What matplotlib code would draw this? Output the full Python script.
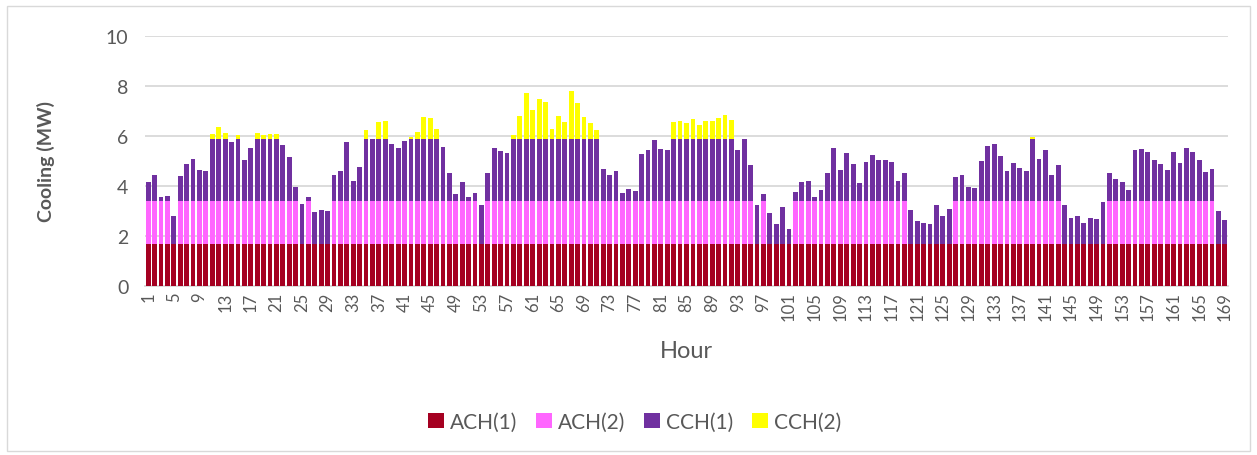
import numpy as np
from matplotlib import pyplot as plt
from matplotlib.patches import Rectangle

plt.rcParams['font.family'] = ['Lato', 'DejaVu Sans']

hours = list(range(1, 170))

ach1 = [1.7] * 169

ach2 = [1.7, 1.7, 1.7, 1.7, 0, 1.7, 1.7, 1.7, 1.7, 1.7,
        1.7, 1.7, 1.7, 1.7, 1.7, 1.7, 1.7, 1.7, 1.7, 1.7,
        1.7, 1.7, 1.7, 1.7, 0, 1.7, 0, 0, 0, 1.7,
        1.7, 1.7, 1.7, 1.7, 1.7, 1.7, 1.7, 1.7, 1.7, 1.7,
        1.7, 1.7, 1.7, 1.7, 1.7, 1.7, 1.7, 1.7, 1.7, 1.7,
        1.7, 1.7, 0, 1.7, 1.7, 1.7, 1.7, 1.7, 1.7, 1.7,
        1.7, 1.7, 1.7, 1.7, 1.7, 1.7, 1.7, 1.7, 1.7, 1.7,
        1.7, 1.7, 1.7, 1.7, 1.7, 1.7, 1.7, 1.7, 1.7, 1.7,
        1.7, 1.7, 1.7, 1.7, 1.7, 1.7, 1.7, 1.7, 1.7, 1.7,
        1.7, 1.7, 1.7, 1.7, 1.7, 0, 1.7, 0, 0, 0,
        0, 1.7, 1.7, 1.7, 1.7, 1.7, 1.7, 1.7, 1.7, 1.7,
        1.7, 1.7, 1.7, 1.7, 1.7, 1.7, 1.7, 1.7, 1.7, 0,
        0, 0, 0, 0, 0, 0, 1.7, 1.7, 1.7, 1.7,
        1.7, 1.7, 1.7, 1.7, 1.7, 1.7, 1.7, 1.7, 1.7, 1.7,
        1.7, 1.7, 1.7, 0, 0, 0, 0, 0, 0, 0,
        1.7, 1.7, 1.7, 1.7, 1.7, 1.7, 1.7, 1.7, 1.7, 1.7,
        1.7, 1.7, 1.7, 1.7, 1.7, 1.7, 1.7, 0, 0]

cch1 = [0.75, 1.03, 0.16, 0.21, 1.10, 1.00, 1.49, 1.70, 1.24, 1.19,
        2.5, 2.5, 2.5, 2.36, 2.5, 1.65, 2.11, 2.5, 2.5, 2.5,
        2.5, 2.25, 1.77, 0.55, 1.57, 0.16, 1.25, 1.33, 1.30, 1.05,
        1.19, 2.35, 0.80, 1.36, 2.5, 2.5, 2.5, 2.5, 2.28, 2.11,
        2.39, 2.5, 2.5, 2.5, 2.5, 2.5, 2.16, 1.11, 0.28, 0.77,
        0.16, 0.31, 1.55, 1.11, 2.11, 2.01, 1.92, 2.5, 2.5, 2.5,
        2.5, 2.5, 2.5, 2.5, 2.5, 2.5, 2.5, 2.5, 2.5, 2.5,
        2.5, 1.28, 1.04, 1.19, 0.33, 0.47, 0.39, 1.89, 2.04, 2.44,
        2.07, 2.04, 2.5, 2.5, 2.5, 2.5, 2.5, 2.5, 2.5, 2.5,
        2.5, 2.5, 2.03, 2.47, 1.44, 1.54, 0.28, 1.22, 0.77, 1.46,
        0.58, 0.37, 0.77, 0.79, 0.17, 0.44, 1.11, 2.11, 1.24, 1.93,
        1.47, 0.71, 1.55, 1.85, 1.65, 1.65, 1.55, 0.80, 1.11, 1.35,
        0.91, 0.81, 0.77, 1.53, 1.10, 1.39, 0.95, 1.03, 0.57, 0.52,
        1.59, 2.20, 2.28, 1.79, 1.20, 1.51, 1.33, 1.20, 2.5, 1.67,
        2.03, 1.03, 1.45, 1.53, 1.01, 1.11, 0.81, 1.03, 0.98, 1.65,
        1.11, 0.88, 0.75, 0.44, 2.03, 2.08, 1.97, 1.64, 1.49, 1.24,
        1.95, 1.51, 2.12, 1.95, 1.64, 1.17, 1.27, 1.31, 0.95]

cch2 = [0, 0, 0, 0, 0, 0, 0, 0, 0, 0,
        0.17, 0.46, 0.23, 0, 0.13, 0, 0, 0.23, 0.14, 0.17,
        0.17, 0, 0, 0, 0, 0, 0, 0, 0, 0,
        0, 0, 0, 0, 0.33, 0, 0.66, 0.71, 0, 0,
        0, 0.07, 0.27, 0.86, 0.82, 0.39, 0, 0, 0, 0,
        0, 0, 0, 0, 0, 0, 0, 0.14, 0.90, 1.81,
        1.14, 1.58, 1.47, 0.39, 0.90, 0.67, 1.89, 1.43, 0.86, 0.61,
        0.34, 0, 0, 0, 0, 0, 0, 0, 0, 0,
        0, 0, 0.66, 0.70, 0.63, 0.78, 0.55, 0.70, 0.70, 0.83,
        0.95, 0.75, 0, 0, 0, 0, 0, 0, 0, 0,
        0, 0, 0, 0, 0, 0, 0, 0, 0, 0,
        0, 0, 0, 0, 0, 0, 0, 0, 0, 0,
        0, 0, 0, 0, 0, 0, 0, 0, 0, 0,
        0, 0, 0, 0, 0, 0, 0, 0, 0.06, 0,
        0, 0, 0, 0, 0, 0, 0, 0, 0, 0,
        0, 0, 0, 0, 0, 0, 0, 0, 0, 0,
        0, 0, 0, 0, 0, 0, 0, 0, 0]

series = [("ACH(1)", ach1, "#a50021"),
          ("ACH(2)", ach2, "#ff66ff"),
          ("CCH(1)", cch1, "#7030a0"),
          ("CCH(2)", cch2, "#ffff00")]

fig = plt.figure(figsize=(12.57, 4.56), dpi=100)
ax = fig.add_axes([145 / 1257, 1 - 287 / 456, 1083 / 1257, 250 / 456])

# stack the four series
bottom = np.zeros(len(hours))
for name, vals, col in series:
    vals = np.array(vals)
    ax.bar(hours, vals, bottom=bottom, width=0.75, color=col, label=name, zorder=3)
    bottom = bottom + vals

ax.set_xlim(0.5, 169.5)
ax.set_ylim(0, 10)
ax.set_yticks(range(0, 11, 2))
ax.set_xticks(hours[::4])
ax.set_xticklabels([str(h) for h in hours[::4]], rotation=90, fontsize=12, color="#595959")
ax.tick_params(axis="y", labelsize=14, colors="#595959", length=0, pad=12)
ax.tick_params(axis="x", length=0, pad=4)
ax.grid(axis="y", color="#d9d9d9", linewidth=1.3, zorder=0)
for s in ["top", "right", "left"]:
    ax.spines[s].set_visible(False)
ax.spines["bottom"].set_color("#d9d9d9")
ax.spines["bottom"].set_linewidth(1.3)

ax.set_ylabel("Cooling (MW)", fontsize=14, fontweight="bold", color="#595959")
ax.yaxis.set_label_coords(-0.083, 0.5)
ax.set_xlabel("Hour", fontsize=17, color="#595959")
ax.xaxis.set_label_coords(0.5, -0.215)

ax.legend(loc="center", bbox_to_anchor=(0.452, -0.544), ncol=4, frameon=False,
          fontsize=15, handlelength=0.75, handleheight=0.75, handletextpad=0.3,
          columnspacing=0.9, labelcolor="#595959")

# chart area border
fig.patches.append(Rectangle((7 / 1257, 4 / 456), 1243 / 1257, 445 / 456,
                             transform=fig.transFigure, fill=False,
                             edgecolor="#d9d9d9", linewidth=1))

plt.savefig("out.png", dpi=100)
